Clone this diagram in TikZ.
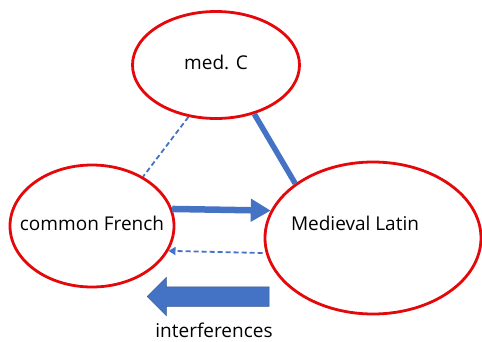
\documentclass[tikz,border=0pt]{standalone}
\usepackage{fontspec}
\setmainfont{Open Sans}
\usetikzlibrary{shapes.geometric,shapes.arrows,arrows.meta}
\definecolor{ringRed}{RGB}{228,8,10}
\definecolor{linkBlue}{RGB}{68,114,196}
\newcommand{\ringWidth}[0]{2.8pt}

\begin{document}
\begin{tikzpicture}[x=1pt, y=-1pt, font=\fontsize{19}{22}\selectfont]
  \tikzset{ring/.style={ellipse,draw=ringRed,line width=\ringWidth,inner sep=0pt},
           link/.style={linkBlue,line width=1.8pt,dash pattern=on 5pt off 3pt}}
  \useasboundingbox (0,0) rectangle (482,341);
  \node[ring, minimum width=167pt, minimum height=107pt,
        label={[yshift=3pt]center:med. C}] (C-med) at (216,65) {};
  \node[ring, minimum width=164pt, minimum height=122pt,
        label={[yshift=3pt]center:common French}] (F-com) at (92,226) {};
  \node[ring, minimum width=216pt, minimum height=152pt,
        label={[shift={(-18pt,15pt)}]center:Medieval Latin}] (L-med) at (373,238) {};
  \draw[linkBlue, line width=5.5pt] (C-med.-52) -- (L-med.145);
  \draw[link] (C-med.242) -- (F-com.44);
  \draw[linkBlue, line width=6.5pt, -{Triangle[width=22pt,length=20pt]}] (F-com.12) -- (L-med.165);
  \draw[link, -{Triangle[width=8pt,length=7pt]}, shorten <=3pt] (L-med.188) -- (F-com.-18);
  % the big arrow under the rings
  \node[single arrow, fill=linkBlue, draw=linkBlue!75!black, line width=0.5pt,
        shape border rotate=180, minimum height=122pt, inner xsep=0pt, inner ysep=9.5pt,
        single arrow head extend=9.5pt, single arrow head indent=0pt,
        single arrow tip angle=90] (A-int) at (213,296.5) {};
  \node[inner sep=0pt] (I-txt) at (214,330) {interferences};
\end{tikzpicture}
\end{document}
